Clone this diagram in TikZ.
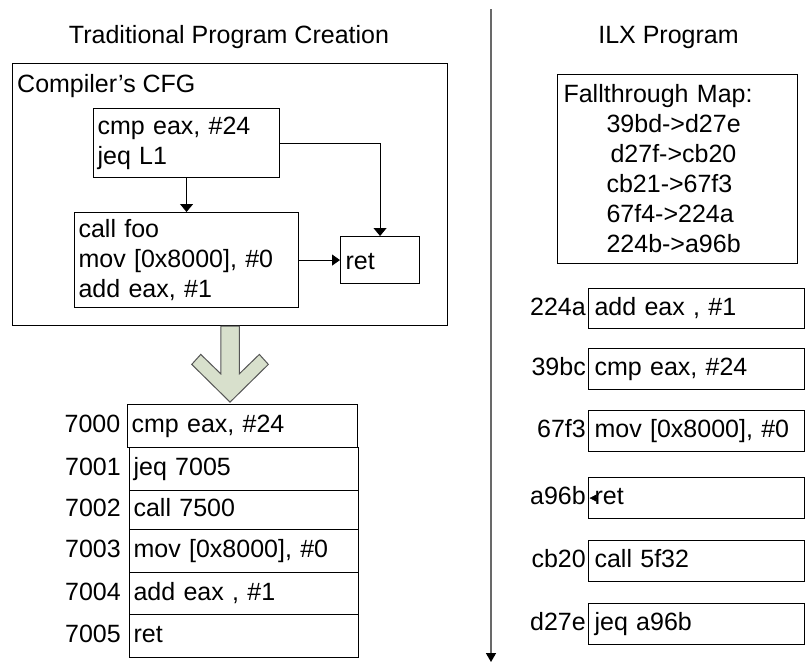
\documentclass[tikz,border=0pt]{standalone}
\usepackage{fontspec}
\setmainfont{Liberation Sans}
\usetikzlibrary{arrows.meta}
\definecolor{arrowfill}{RGB}{216,224,204}
\definecolor{arrowline}{RGB}{85,85,85}
\definecolor{divgray}{RGB}{105,105,105}
\begin{document}
\begin{tikzpicture}[x=1pt,y=-1pt,
  every node/.style={font=\fontsize{25}{30}\selectfont, inner sep=0pt},
  box/.style={draw, line width=1.1pt, rectangle, anchor=north west, align=left, inner ysep=0pt},
  lrow/.style={box, inner xsep=4pt, text width=221pt, text height=18pt, text depth=5pt},
  rrow/.style={box, inner xsep=6pt, text width=203.5pt, text height=18pt, text depth=5pt},
  lbl/.style={anchor=base east},
  arr/.style={line width=1pt, -{Triangle[width=13pt,length=8pt]}},
  divider/.style={draw=divgray, line width=1.5pt, -{Triangle[width=10pt,length=9pt,color=black]}},
  bigarrow/.style={fill=arrowfill, draw=arrowline, line width=1pt, line join=miter}
]
\useasboundingbox (0,0) rectangle (805,665);

% titles
\node[anchor=base] (t1) at (229,43) {Traditional Program Creation};
\node[anchor=base] (t2) at (668.5,43) {ILX Program};

% divider
\coordinate (dtop) at (491,9);
\coordinate (dbot) at (491,662);
\draw[divider] (dtop) -- (dbot);

% compiler's CFG
\node[box, inner sep=0pt, minimum width=435pt, minimum height=262pt] (cfg) at (12,63) {};
\node[anchor=base west] (cfgt) at (17,92) {Compiler’s CFG};
\node[box, inner xsep=4pt, text width=178pt, minimum height=69pt] (b1) at (93,108)
  {cmp eax, \#24\\jeq L1};
\node[box, inner xsep=4pt, text width=216pt, minimum height=95pt] (b2) at (74,212)
  {call foo\\mov [0x8000], \#0\\add eax, \#1};
\node[box, inner xsep=5pt, text width=69pt, minimum height=47pt, text height=18pt, text depth=0pt] (ret) at (340,236) {ret};
\draw[arr] (b1.south) -- (b2.north);
\draw[arr] (b1.east) -| (ret.north);
\draw[line width=1pt, -{Triangle[width=11pt,length=8pt]}] (b2.east) -- (ret.west);

% big arrow
\begin{scope}[shift={(cfg.south)}]
\draw[bigarrow] (-9.3,0) -- (-9.3,47.7) -- (-29.3,28.3) -- (-38.3,38.3) -- (0,76)
  -- (38.3,38.3) -- (29.3,28.3) -- (9.3,47.7) -- (9.3,0) -- cycle;
\end{scope}

% left table
\node[lrow, text width=222pt, minimum height=43pt] (r0) at (127,404) {cmp eax, \#24};
\node[lrow, minimum height=43pt] (r1) at (129,447) {jeq 7005};
\node[lrow, minimum height=39pt] (r2) at (129,490) {call 7500};
\node[lrow, minimum height=43pt] (r3) at (129,529) {mov [0x8000], \#0};
\node[lrow, minimum height=42pt] (r4) at (129,572) {add eax , \#1};
\node[lrow, minimum height=43pt] (r5) at (129,614) {ret};
\node[lbl] (l0) at ([xshift=-6.5pt]r0.base west) {7000};
\node[lbl] (l1) at ([xshift=-8pt]r1.base west) {7001};
\node[lbl] (l2) at ([xshift=-8pt]r2.base west) {7002};
\node[lbl] (l3) at ([xshift=-8pt]r3.base west) {7003};
\node[lbl] (l4) at ([xshift=-8pt]r4.base west) {7004};
\node[lbl] (l5) at ([xshift=-8pt]r5.base west) {7005};

% fallthrough map
\node[box, inner xsep=6pt, text width=228pt, minimum height=189pt] (fm) at (557,74)
  {Fallthrough Map:\\
   \hspace*{43pt}39bd->d27e\\
   \hspace*{47pt}d27f->cb20\\
   \hspace*{43pt}cb21->67f3\\
   \hspace*{43pt}67f4->224a\\
   \hspace*{43pt}224b->a96b};

% right table
\node[rrow, minimum height=40pt] (q0) at (588,288) {add eax , \#1};
\node[rrow, minimum height=41pt] (q1) at (588,348) {cmp eax, \#24};
\node[rrow, minimum height=41pt] (q2) at (588,410) {mov [0x8000], \#0};
\node[rrow, minimum height=41pt] (q3) at (588,477) {ret};
\node[rrow, minimum height=41pt] (q4) at (588,540) {call 5f32};
\node[rrow, minimum height=41pt] (q5) at (588,603) {jeq a96b};
\node[lbl] (m0) at ([xshift=-2pt]q0.base west) {224a};
\node[lbl] (m1) at ([xshift=-2pt]q1.base west) {39bc};
\node[lbl] (m2) at ([xshift=-2pt]q2.base west) {67f3};
\node[lbl] (m3) at ([xshift=-2pt]q3.base west) {a96b};
\node[lbl] (m4) at ([xshift=-2pt]q4.base west) {cb20};
\node[lbl] (m5) at ([xshift=-2pt]q5.base west) {d27e};

% tiny arrowhead at a96b
\coordinate (tipA) at ([xshift=8pt]q3.west);
\coordinate (tipB) at ([xshift=1.5pt]q3.west);
\draw[line width=0.6pt, -{Triangle[width=7pt,length=7pt]}] (tipA) -- (tipB);
\end{tikzpicture}
\end{document}
